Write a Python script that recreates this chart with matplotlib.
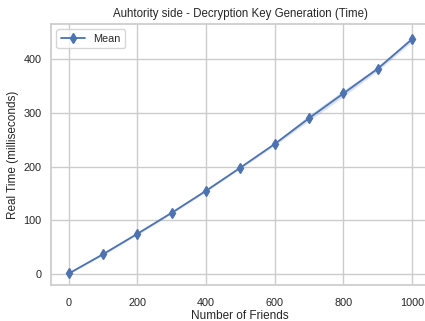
import matplotlib.pyplot as plt
import seaborn as sns

friends = [0, 100, 200, 300, 400, 500, 600, 700, 800, 900, 1000]
mean_ms = [1, 37, 75, 114, 155, 198, 242, 290, 336, 382, 437]
low_ms = [0, 35, 73, 112, 153, 196, 239, 285, 330, 378, 432]
high_ms = [2, 39, 77, 116, 157, 200, 245, 296, 342, 386, 442]

sns.set_theme(style="whitegrid")
plt.rcParams['font.family'] = ['Liberation Sans', 'DejaVu Sans']

fig = plt.figure(figsize=(4.25, 3.21), dpi=100)
ax = fig.add_axes([0.12, 0.112, 0.89, 0.813])

color = sns.color_palette("deep")[0]
ax.fill_between(friends, low_ms, high_ms, color=color, alpha=0.2, linewidth=0)
ax.plot(friends, mean_ms, marker='d', markersize=5, linewidth=1.3,
        color=color, label='Mean')

ax.set_xlim(-52, 1050)
ax.set_ylim(-20.5, 465)
ax.set_yticks([0, 100, 200, 300, 400])
ax.tick_params(axis='x', labelsize=7.8, pad=3)
ax.tick_params(axis='y', labelsize=7.8, pad=1)

ax.set_title('Auhtority side - Decryption Key Generation (Time)', fontsize=8.3, pad=5)
ax.set_xlabel('Number of Friends', fontsize=8.5, labelpad=2)
ax.set_ylabel('Real Time (milliseconds)', fontsize=8.5, labelpad=3)
ax.legend(loc='upper left', fontsize=7.8, handlelength=2.2)

fig.savefig('out.png', dpi=100)
